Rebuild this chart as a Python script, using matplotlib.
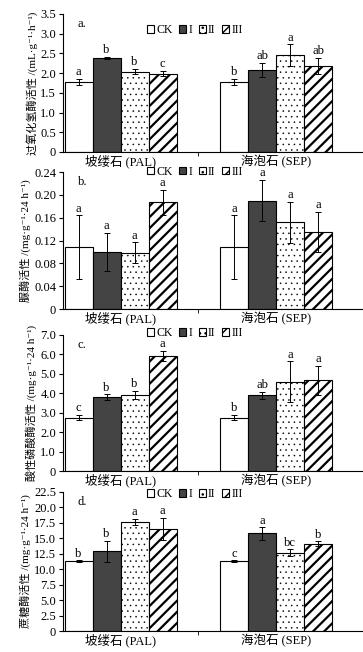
import numpy as np
import matplotlib
matplotlib.use("Agg")
import matplotlib.pyplot as plt
from matplotlib.patches import Patch

plt.rcParams['font.family'] = ['Liberation Serif', 'Noto Sans CJK SC', 'DejaVu Serif']
plt.rcParams['axes.unicode_minus'] = False

groups = ["坡缕石 (PAL)", "海泡石 (SEP)"]
treatments = ["CK", "I", "II", "III"]

# 过氧化氢酶
cat_mean = [[1.78, 2.39, 2.04, 1.99], [1.78, 2.08, 2.46, 2.19]]
cat_err = [[0.07, 0.02, 0.07, 0.07], [0.07, 0.18, 0.27, 0.20]]
cat_sig = [["a", "b", "b", "c"], ["b", "ab", "a", "ab"]]

# 脲酶
ure_mean = [[0.108, 0.100, 0.099, 0.187], [0.108, 0.190, 0.152, 0.135]]
ure_err = [[0.056, 0.033, 0.018, 0.022], [0.056, 0.036, 0.036, 0.035]]
ure_sig = [["a", "a", "a", "a"], ["a", "a", "a", "a"]]

# 酸性磷酸酶
acp_mean = [[2.75, 3.80, 3.93, 5.92], [2.75, 3.90, 4.60, 4.68]]
acp_err = [[0.15, 0.15, 0.20, 0.25], [0.15, 0.18, 1.05, 0.75]]
acp_sig = [["c", "b", "b", "a"], ["b", "ab", "a", "a"]]

# 蔗糖酶
suc_mean = [[11.3, 12.9, 17.6, 16.5], [11.3, 15.8, 12.7, 14.1]]
suc_err = [[0.15, 1.65, 0.5, 1.8], [0.15, 1.0, 0.5, 0.4]]
suc_sig = [["b", "b", "a", "a"], ["c", "a", "bc", "b"]]

panels = [
    ("a.", cat_mean, cat_err, cat_sig, "过氧化氢酶活性 /(mL·g⁻¹·h⁻¹)",
     np.arange(0, 3.51, 0.5), "{:.1f}", 3.5, 0.97),
    ("b.", ure_mean, ure_err, ure_sig, "脲酶活性 /(mg·g⁻¹·24 h⁻¹)",
     np.arange(0, 0.241, 0.04), "{:.2f}", 0.24, 1.09),
    ("c.", acp_mean, acp_err, acp_sig, "酸性磷酸酶活性 /(mg·g⁻¹·24 h⁻¹)",
     np.arange(0, 7.01, 1.0), "{:.1f}", 7.0, 1.10),
    ("d.", suc_mean, suc_err, suc_sig, "蔗糖酶活性 /(mg·g⁻¹·24 h⁻¹)",
     np.arange(0, 22.51, 2.5), "{:.1f}", 22.5, 1.07),
]

colors = ["white", "#444444", "white", "white"]
hatches = [None, None, "...", "///"]
hatch_lw = [0.5, 0.5, 0.35, 1.6]

fig = plt.figure(figsize=(3.63, 6.52), dpi=100)
boxes = [(0.7669, 0.2117), (0.526, 0.210), (0.2776, 0.2086), (0.0322, 0.2132)]

w = 0.18
for (tag, mean, err, sig, ylab, ticks, fmt, ymax, leg_y), (b, h) in zip(panels, boxes):
    ax = fig.add_axes([0.1736, b, 0.824, h])
    for gi in range(2):
        for ti in range(4):
            x = gi + (ti - 1.5) * w
            with plt.rc_context({"hatch.linewidth": hatch_lw[ti]}):
                ax.bar(x, mean[gi][ti], w, color=colors[ti], edgecolor="black",
                       linewidth=0.8, hatch=hatches[ti], zorder=2)
            ax.errorbar(x, mean[gi][ti], yerr=err[gi][ti], fmt="none",
                        ecolor="black", elinewidth=0.7, capsize=2, capthick=0.7, zorder=3)
            ax.text(x, mean[gi][ti] + err[gi][ti] + ymax * 0.005, sig[gi][ti],
                    ha="center", va="bottom", fontsize=9)
    ax.set_xlim(-0.37, 1.553)
    ax.set_ylim(0, ymax)
    ax.set_yticks(ticks)
    ax.set_yticklabels(["0"] + [fmt.format(t) for t in ticks[1:]], fontsize=9)
    ax.set_xticks([0, 1])
    ax.set_xticklabels(groups, fontsize=9)
    ax.tick_params(axis="x", length=0, pad=2)
    ax.set_xticks([0.5], minor=True)
    ax.tick_params(axis="x", which="minor", length=3, width=0.6)
    ax.tick_params(axis="y", length=3, width=0.8, pad=2)
    ax.spines["top"].set_visible(False)
    ax.spines["right"].set_visible(False)
    ax.set_ylabel(ylab, fontsize=8, labelpad=2)
    ax.text(0.05, 0.97, tag, transform=ax.transAxes, fontsize=9, va="top")
    handles = []
    for i in range(4):
        with plt.rc_context({"hatch.linewidth": hatch_lw[i]}):
            handles.append(Patch(facecolor=colors[i], edgecolor="black",
                                 hatch=hatches[i], linewidth=0.8))
    ax.legend(handles, treatments, loc="upper center", bbox_to_anchor=(0.44, leg_y),
              ncol=4, frameon=False, fontsize=8.5, handlelength=0.6, handleheight=0.6,
              handletextpad=0.2, columnspacing=0.55, borderaxespad=0.1)

fig.savefig("out.png", dpi=100)
